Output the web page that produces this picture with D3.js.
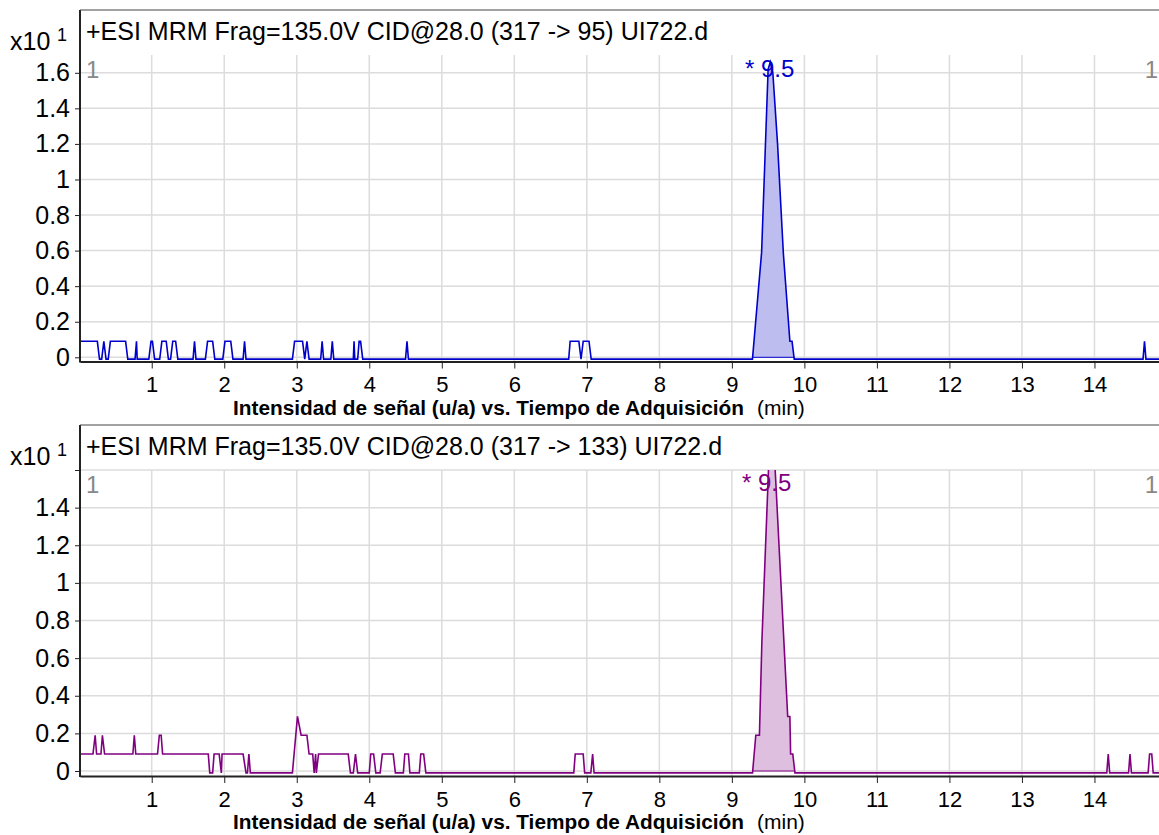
<!DOCTYPE html>
<html>
<head>
<meta charset="utf-8">
<script src="https://cdn.jsdelivr.net/npm/d3@7"></script>
<style>
	body { margin: 0; background: #fff; }
	svg text { font-family: "Liberation Sans", Arial, sans-serif; }
</style>
</head>
<body>
<svg id="chart" width="1159" height="835"></svg>
<script>
	// x ticks (min) and y ticks (x10^1 counts)
	var xTicks = [1, 2, 3, 4, 5, 6, 7, 8, 9, 10, 11, 12, 13, 14];
	var yTicks = [0, 0.2, 0.4, 0.6, 0.8, 1, 1.2, 1.4, 1.6];

	var titles = [
		"+ESI MRM Frag=135.0V CID@28.0 (317 -> 95) UI722.d",
		"+ESI MRM Frag=135.0V CID@28.0 (317 -> 133) UI722.d"
	];
	var peakLabels = ["* 9.5", "* 9.5"];
	var peakRanges = [[9.284, 9.86], [9.285, 9.87]];

	// trace 317 -> 95 : [time, intensity]
	var trace95 = [
		[0.01,0.09],[0.25,0.09],[0.28,-0.01],[0.31,-0.01],[0.34,0.09],[0.37,-0.01],[0.40,-0.01],[0.43,0.09],
		[0.64,0.09],[0.67,-0.01],[0.77,-0.01],[0.79,0.09],[0.80,-0.01],[0.96,-0.01],[0.99,0.09],[1.01,0.09],
		[1.04,-0.01],[1.11,-0.01],[1.14,0.09],[1.20,0.09],[1.23,-0.01],[1.26,-0.01],[1.29,0.09],[1.33,0.09],
		[1.36,-0.01],[1.57,-0.01],[1.59,0.09],[1.61,-0.01],[1.74,-0.01],[1.77,0.09],[1.84,0.09],[1.87,-0.01],
		[1.98,-0.01],[2.01,0.09],[2.09,0.09],[2.12,-0.01],[2.26,-0.01],[2.28,0.09],[2.30,-0.01],[2.94,-0.01],
		[2.97,0.09],[3.08,0.09],[3.11,-0.01],[3.14,0.09],[3.17,-0.01],[3.33,-0.01],[3.35,0.09],[3.37,-0.01],
		[3.47,-0.01],[3.49,0.09],[3.51,-0.01],[3.78,-0.01],[3.79,0.09],[3.80,-0.01],[3.84,-0.01],[3.86,0.09],
		[3.88,0.09],[3.91,-0.01],[4.50,-0.01],[4.52,0.09],[4.54,-0.01],[6.75,-0.01],[6.77,0.09],[6.89,0.09],
		[6.92,-0.01],[6.95,0.09],[7.03,0.09],[7.06,-0.01],[9.284,-0.01],[9.41,0.59],[9.50,1.62],[9.53,1.66],
		[9.565,1.60],[9.63,1.20],[9.71,0.585],[9.80,0.09],[9.83,0.09],[9.86,-0.01],[14.67,-0.01],[14.69,0.09],
		[14.71,-0.01],[14.89,-0.01]
	];

	// trace 317 -> 133
	var trace133 = [
		[0.01,0.09],[0.19,0.09],[0.22,0.19],[0.24,0.09],[0.30,0.09],[0.32,0.19],[0.35,0.09],[0.74,0.09],
		[0.76,0.19],[0.78,0.09],[1.08,0.09],[1.105,0.19],[1.13,0.19],[1.15,0.09],[1.78,0.09],[1.80,-0.01],
		[1.84,-0.01],[1.86,0.09],[1.93,0.09],[1.96,-0.01],[1.97,0.09],[2.26,0.09],[2.30,-0.01],[2.32,-0.01],
		[2.34,0.09],[2.36,-0.01],[2.94,-0.01],[3.01,0.29],[3.06,0.19],[3.14,0.19],[3.17,0.09],[3.22,0.09],
		[3.24,-0.01],[3.26,0.09],[3.27,-0.01],[3.30,0.09],[3.71,0.09],[3.74,-0.01],[3.78,-0.01],[3.81,0.09],
		[3.84,-0.01],[4.00,-0.01],[4.02,0.09],[4.06,0.09],[4.09,-0.01],[4.15,-0.01],[4.18,0.09],[4.33,0.09],
		[4.36,-0.01],[4.47,-0.01],[4.49,0.09],[4.54,0.09],[4.56,-0.01],[4.69,-0.01],[4.71,0.09],[4.75,0.09],
		[4.78,-0.01],[6.82,-0.01],[6.84,0.09],[6.95,0.09],[6.97,-0.01],[7.055,-0.01],[7.08,0.09],[7.10,-0.01],
		[9.285,-0.01],[9.33,0.19],[9.38,0.19],[9.414,0.69],[9.505,1.60],[9.55,1.95],[9.60,1.58],[9.77,0.29],
		[9.80,0.29],[9.81,0.09],[9.84,0.09],[9.87,-0.01],[14.17,-0.01],[14.19,0.09],[14.21,-0.01],[14.47,-0.01],
		[14.49,0.09],[14.51,-0.01],[14.74,-0.01],[14.76,0.09],[14.79,0.09],[14.81,-0.01],[14.89,-0.01]
	];

	var svg = d3.select("#chart");
	var left = 80, right = 1159;

	var x = d3.scaleLinear().domain([0.011, 14.89]).range([left, right]);

	var panels = [
		{ trace: trace95, boxTop: 10, plotTop: 55, y0: 357.3, yMax: 1.7, axisY: 361.5,
			color: "#0000cc", fill: "#bdbdf0", showTop: true, labelX: 745, labelY: 77 },
		{ trace: trace133, boxTop: 425, plotTop: 470, y0: 771, yMax: 1.6, axisY: 776,
			color: "#800080", fill: "#dfbfdf", showTop: false, labelX: 742, labelY: 491 }
	];

	panels.forEach(function(p, i) {
		var y = d3.scaleLinear().domain([0, p.yMax]).range([p.y0, p.plotTop]);
		var g = svg.append("g");

		// grid
		g.append("g").selectAll("line.h").data(yTicks).enter().append("line")
			.attr("x1", left).attr("x2", right)
			.attr("y1", function(d) { return y(d); }).attr("y2", function(d) { return y(d); })
			.attr("stroke", "#dcdcdc").attr("stroke-width", 1.5);
		g.append("g").selectAll("line.v").data(xTicks).enter().append("line")
			.attr("x1", function(d) { return x(d); }).attr("x2", function(d) { return x(d); })
			.attr("y1", p.plotTop).attr("y2", p.axisY)
			.attr("stroke", "#dcdcdc").attr("stroke-width", 1.5);

		// clip
		svg.append("clipPath").attr("id", "clip" + i).append("rect")
			.attr("x", left).attr("y", p.plotTop).attr("width", right - left).attr("height", p.axisY - p.plotTop);

		var plot = g.append("g").attr("clip-path", "url(#clip" + i + ")");

		// integrated peak
		var r = peakRanges[i];
		var peakPts = p.trace.filter(function(d) { return d[0] >= r[0] && d[0] <= r[1]; });
		var area = d3.area()
			.x(function(d) { return x(d[0]); })
			.y0(y(0))
			.y1(function(d) { return y(d[1]); });
		plot.append("path").datum(peakPts)
			.attr("d", area).attr("fill", p.fill).attr("stroke", "none");
		plot.append("line")
			.attr("x1", x(r[0])).attr("x2", x(r[1]))
			.attr("y1", y(0)).attr("y2", y(0))
			.attr("stroke", p.color).attr("stroke-width", 1);

		var line = d3.line()
			.x(function(d) { return x(d[0]); })
			.y(function(d) { return y(d[1]); });
		plot.append("path").datum(p.trace)
			.attr("d", line).attr("fill", "none")
			.attr("stroke", p.color).attr("stroke-width", 1.6);

		// axes
		var xAxis = d3.axisBottom(x).tickValues(xTicks).tickSize(7).tickSizeOuter(0).tickPadding(8)
			.tickFormat(d3.format("d"));
		var ax = g.append("g").attr("transform", "translate(0," + p.axisY + ")").call(xAxis);
		ax.select(".domain").attr("stroke", "#222").attr("stroke-width", 2);
		ax.selectAll(".tick line").attr("stroke", "#222");
		ax.selectAll("text").attr("font-size", 22).attr("fill", "#000")
			.attr("font-family", "Liberation Sans, Arial, sans-serif");

		var yAxis = d3.axisLeft(y).tickValues(yTicks).tickSize(5).tickPadding(5)
			.tickFormat(function(d) { return (d === 1.6 && !p.showTop) ? "" : d3.format("")(d); });
		var ay = g.append("g").attr("transform", "translate(" + left + ",0)").call(yAxis);
		ay.select(".domain").remove();
		ay.selectAll(".tick line").attr("stroke", "#222");
		ay.selectAll("text").attr("font-size", 25).attr("fill", "#000")
			.attr("font-family", "Liberation Sans, Arial, sans-serif");

		// frame: left axis line and top border of title box
		g.append("line").attr("x1", left).attr("x2", left)
			.attr("y1", p.boxTop).attr("y2", p.axisY + 1)
			.attr("stroke", "#222").attr("stroke-width", 2);
		g.append("line").attr("x1", left).attr("x2", right)
			.attr("y1", p.boxTop).attr("y2", p.boxTop)
			.attr("stroke", "#444").attr("stroke-width", 1);

		// title + scale
		g.append("text").attr("x", 86).attr("y", p.boxTop + 30)
			.attr("font-size", 25).attr("fill", "#000").text(titles[i]);
		g.append("text").attr("x", 10).attr("y", p.boxTop + 40)
			.attr("font-size", 25).attr("fill", "#000").text("x10");
		g.append("text").attr("x", 57).attr("y", p.boxTop + 31)
			.attr("font-size", 18).attr("fill", "#000").text("1");

		// gray segment markers
		g.append("text").attr("x", 86).attr("y", p.plotTop + 23)
			.attr("font-size", 24).attr("fill", "#888").text("1");
		g.append("text").attr("x", 1158).attr("y", p.plotTop + 23).attr("text-anchor", "end")
			.attr("font-size", 24).attr("fill", "#888").text("1");

		// peak label
		g.append("text").attr("x", p.labelX).attr("y", p.labelY)
			.attr("font-size", 24).attr("fill", p.color).text(peakLabels[i]);

		// x title
		g.append("text").attr("x", 233).attr("y", p.axisY + 53)
			.attr("font-size", 20).attr("font-weight", "bold").attr("fill", "#000")
			.attr("textLength", 511).attr("lengthAdjust", "spacingAndGlyphs")
			.text("Intensidad de señal (u/a) vs. Tiempo de Adquisición");
		g.append("text").attr("x", 757).attr("y", p.axisY + 53)
			.attr("font-size", 21).attr("fill", "#000").text("(min)");
	});
</script>
</body>
</html>
